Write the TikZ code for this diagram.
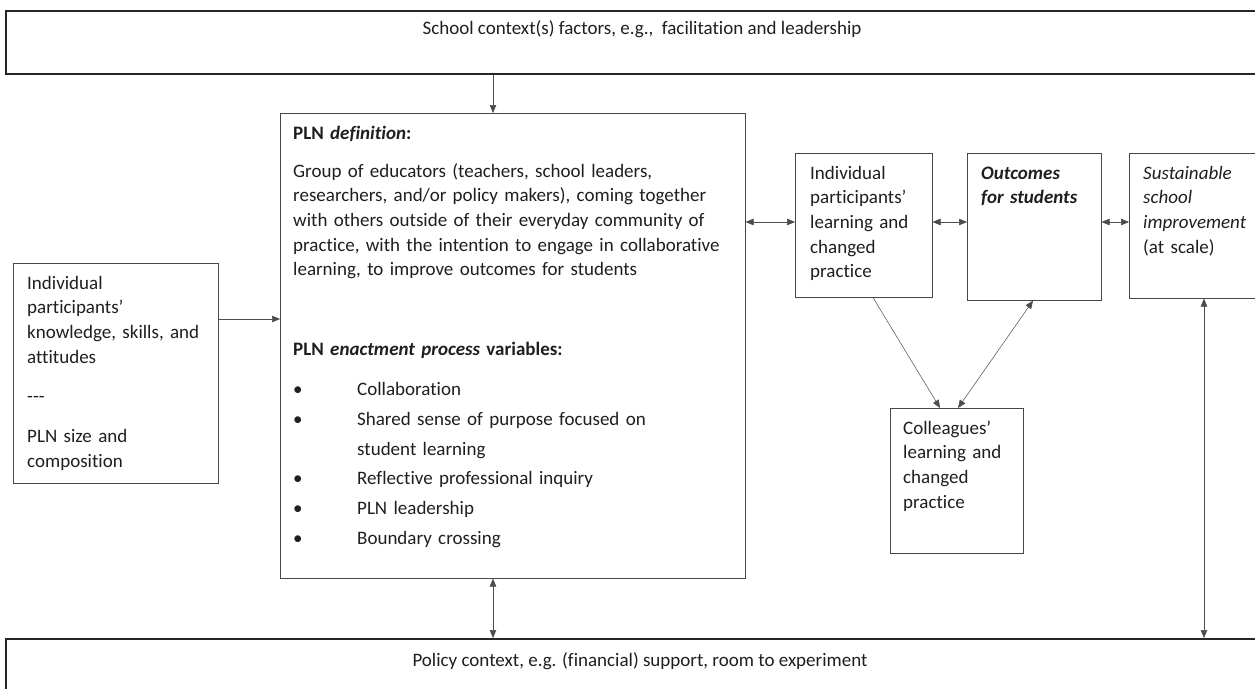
\documentclass[tikz,border=0pt]{standalone}
\usepackage{fontspec}
\setmainfont{Carlito}[Ligatures={NoCommon}]
\usetikzlibrary{arrows.meta,calc}
\begin{document}
\begin{tikzpicture}[x=1pt,y=1pt]
\tikzset{
  box/.style={draw=black!72, line width=0.6pt, anchor=north west, inner sep=0pt},
  ctx/.style={draw=black!85, line width=1.5pt, anchor=north west, inner sep=0pt},
  txt/.style={anchor=base west, inner sep=0pt, align=left, text=black!88, font=\fontsize{19}{24.7}\selectfont},
  ctxtxt/.style={anchor=base, inner sep=0pt, text=black!88, font=\fontsize{19}{23}\selectfont},
  tip/.tip={Triangle[length=8pt,width=6.5pt]},
  arr/.style={draw=black!70, line width=0.5pt, -tip},
  darr/.style={draw=black!70, line width=0.5pt, tip-tip}
}
\useasboundingbox (0,0) rectangle (1255,-688);
\clip (0,0) rectangle (1255,-688);
\fill[white] (0,0) rectangle (1255,-688);

% context boxes
\node[ctx, minimum width=1290pt, minimum height=63pt] (school) at (5,-10) {};
\node[ctxtxt] (schooltext) at (642,-34) {School context(s) factors, e.g.,~\ facilitation and leadership};
\node[ctx, minimum width=1290pt, minimum height=80pt] (policy) at (5,-638) {};
\node[ctxtxt] (policytext) at (640,-666) {Policy context, e.g. (financial) support, room to experiment};

% main PLN box
\node[box, minimum width=465pt, minimum height=465pt] (main) at (280,-113) {};
\node[txt, text width=450pt] (maintext) at (293,-139) {%
\textbf{PLN \textit{definition}:}\\[13.3pt]
Group of educators (teachers, school leaders,\\
researchers, and/or policy makers), coming together\\
with others outside of their everyday community of\\
practice, with the intention to engage in collaborative\\
learning, to improve outcomes for students\\[55.3pt]
\textbf{PLN \textit{enactment process} variables:}\\[15.3pt]
\makebox[64pt][l]{\textbullet}Collaboration\\[5pt]
\makebox[64pt][l]{\textbullet}Shared sense of purpose focused on\\[5pt]
\makebox[64pt][l]{}student learning\\[5pt]
\makebox[64pt][l]{\textbullet}Reflective professional inquiry\\[5pt]
\makebox[64pt][l]{\textbullet}PLN leadership\\[5pt]
\makebox[64pt][l]{\textbullet}Boundary crossing};

% left box
\node[box, minimum width=205pt, minimum height=220pt] (left) at (13,-263) {};
\node[txt, text width=190pt] (lefttext) at (27,-289) {%
Individual\\
participants’\\
knowledge, skills, and\\
attitudes\\[15pt]
-{}-{}-\\[15pt]
PLN size and\\
composition};

% right boxes
\node[box, minimum width=137pt, minimum height=144pt] (indiv) at (795,-153) {};
\node[txt, text width=125pt] (indivtext) at (810,-179) {%
Individual\\
participants’\\
learning and\\
changed\\
practice};

\node[box, minimum width=134pt, minimum height=147pt] (outc) at (967,-153) {};
\node[txt, text width=120pt] (outctext) at (981,-179) {%
\textbf{\textit{Outcomes}}\\
\textbf{\textit{for students}}};

\node[box, minimum width=200pt, minimum height=145pt] (sust) at (1129,-153) {};
\node[txt, text width=120pt] (susttext) at (1143,-179) {%
\textit{Sustainable}\\
\textit{school}\\
\textit{improvement}\\
(at scale)};

\node[box, minimum width=133pt, minimum height=145pt] (coll) at (890,-408) {};
\node[txt, text width=120pt] (colltext) at (903,-434) {%
Colleagues’\\
learning and\\
changed\\
practice};

% connector anchors
\coordinate (xa) at (493,0);
\coordinate (yl) at (0,-319);
\coordinate (yr) at (0,-222);
\coordinate (xs) at (1204,0);
\coordinate (c1) at (873,0);
\coordinate (c2) at (940,0);
\coordinate (c3) at (958,0);
\coordinate (c4) at (1033,0);

\draw[arr] (school.south -| xa) -- (main.north -| xa);
\draw[arr] (left.east |- yl) -- (main.west |- yl);
\draw[darr] (main.east |- yr) -- (indiv.west |- yr);
\draw[darr] (indiv.east |- yr) -- (outc.west |- yr);
\draw[darr] (outc.east |- yr) -- (sust.west |- yr);
\draw[arr] (indiv.south -| c1) -- (coll.north -| c2);
\draw[darr] (coll.north -| c3) -- (outc.south -| c4);
\draw[darr] (sust.south -| xs) -- (policy.north -| xs);
\draw[darr] (main.south -| xa) -- (policy.north -| xa);
\end{tikzpicture}
\end{document}
